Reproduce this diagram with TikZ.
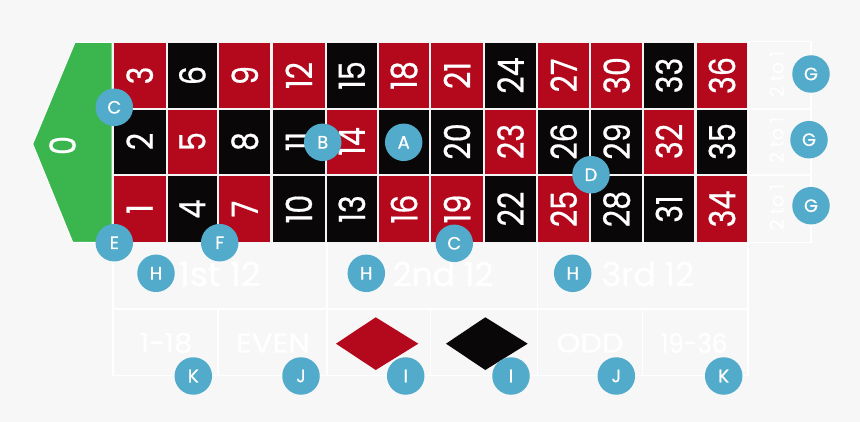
\documentclass[tikz,border=0pt]{standalone}
\usepackage{fontspec}
\setmainfont[FakeBold=0.6]{Poppins}
\usetikzlibrary{shapes.geometric}
\definecolor{bgc}{HTML}{F7F7F7}
\definecolor{redc}{HTML}{B4081C}
\definecolor{blackc}{HTML}{090708}
\definecolor{greenc}{HTML}{3BB54D}
\definecolor{bluec}{HTML}{52ABCA}
\tikzset{
  numtext/.style={text=white,rotate=90,font=\fontsize{36}{36}\selectfont,inner sep=0pt},
  ghost/.style={text=white,font=\fontsize{33}{33}\selectfont,inner sep=0pt},
  ghostsmall/.style={text=white,font=\fontsize{27}{27}\selectfont,inner sep=0pt},
  ghostside/.style={text=white,rotate=90,font=\fontsize{19}{19}\selectfont,inner sep=0pt},
  tag/.style={circle,fill=bluec,minimum size=37.5pt,inner sep=0pt,text=white,font=\fontsize{18}{18}\selectfont},
  gridline/.style={draw=white,line width=1.6pt},
}
\newcommand{\nar}[1]{\scalebox{0.84}[1]{#1}}
\newcommand{\wid}[2]{\scalebox{#1}[1]{#2}}
\begin{document}
\begin{tikzpicture}[x=1pt,y=-1pt]
\useasboundingbox (0,0) rectangle (860,422);
\fill[bgc] (0,0) rectangle (860,422);
% ghost grid
\draw[gridline] (748,41.5) -- (811,41.5) -- (811,242.5) -- (748,242.5);
\draw[gridline] (748,108.8) -- (811,108.8);
\draw[gridline] (748,175) -- (811,175);
\draw[gridline] (748,41.5) -- (748,375.5) -- (112.7,375.5) -- (112.7,242);
\draw[gridline] (112.7,309.3) -- (748,309.3);
\draw[gridline] (326.7,242) -- (326.7,375.5);
\draw[gridline] (537.3,242) -- (537.3,375.5);
\draw[gridline] (217.7,309.3) -- (217.7,375.5);
\draw[gridline] (430.5,309.3) -- (430.5,375.5);
\draw[gridline] (642.3,309.3) -- (642.3,375.5);
% backing
\fill[white!92!gray] (112,41.5) rectangle (748,243);
% zero
\filldraw[fill=greenc,draw=white,line width=1pt] (75,42.3) -- (112,42.3) -- (112,242.3) -- (72.7,242.3) -- (32.7,144) -- cycle;
\node[numtext] (zero) at (62.5,145.5) {\nar{0}};
% cells
\foreach \xa/\xb/\top/\mid/\bot/\ct/\cm/\cb in {
 113.7/165.7/redc/blackc/redc/3/2/1,
 167.7/217/blackc/redc/blackc/6/5/4,
 219.3/270.3/redc/blackc/redc/9/8/7,
 272.7/325/redc/blackc/blackc/12/11/10,
 327/376.7/blackc/redc/blackc/15/14/13,
 379/429/redc/blackc/redc/18/17/16,
 431.3/482.7/redc/blackc/redc/21/20/19,
 485/536/blackc/redc/blackc/24/23/22,
 538.3/589/redc/blackc/redc/27/26/25,
 591.3/642/redc/blackc/blackc/30/29/28,
 643.7/694.3/blackc/redc/blackc/33/32/31,
 697.3/746.7/redc/blackc/redc/36/35/34}{
  \fill[\top] (\xa,42.7) rectangle (\xb,107.7);
  \fill[\mid] (\xa,110) rectangle (\xb,174);
  \fill[\bot] (\xa,176) rectangle (\xb,242);
  \pgfmathsetmacro{\xc}{(\xa+\xb)/2}
  \node[numtext] (n\ct) at (\xc,75.5) {\nar{\ct}};
  \ifnum\cm=17\else\node[numtext] (n\cm) at (\xc,141.5) {\nar{\cm}};\fi
  \node[numtext] (n\cb) at (\xc,209) {\nar{\cb}};
}
% ghost labels
\node[ghostside] (s1) at (776.5,74) {\wid{1}{2 to 1}};
\node[ghostside] (s2) at (776.5,140) {\wid{1}{2 to 1}};
\node[ghostside] (s3) at (776.5,207) {\wid{1}{2 to 1}};
\node[ghost] (d1) at (219.7,274) {\wid{1.05}{1st 12}};
\node[ghost] (d2) at (443,274) {\wid{1.0}{2nd 12}};
\node[ghost] (d3) at (648,274) {\wid{1.0}{3rd 12}};
\node[ghostsmall] (o1) at (166,343) {\wid{1.07}{1-18}};
\node[ghostsmall] (o2) at (273,343) {\wid{1.14}{EVEN}};
\node[ghostsmall] (o3) at (590,343) {\wid{1.13}{ODD}};
\node[ghostsmall] (o4) at (694,343) {\wid{0.91}{19-36}};
% diamonds
\fill[redc] (336,343.7) -- (375.7,317.3) -- (418.3,343.7) -- (375.7,370) -- cycle;
\fill[blackc] (446,343.7) -- (485.3,317.3) -- (527.7,343.7) -- (485.3,370) -- cycle;
% tags
\node[tag] (tA) at (403.7,142.3) {A};
\node[tag] (tB) at (322.7,142.3) {B};
\node[tag] (tC1) at (114.3,107.3) {C};
\node[tag] (tC2) at (454.3,243.3) {C};
\node[tag] (tD) at (591,174.7) {D};
\node[tag] (tE) at (114.3,242.7) {E};
\node[tag] (tF) at (219.7,242.7) {F};
\node[tag] (tG1) at (811,74) {G};
\node[tag] (tG2) at (809,139.7) {G};
\node[tag] (tG3) at (811,205.7) {G};
\node[tag] (tH1) at (156,273.3) {H};
\node[tag] (tH2) at (366.3,273.3) {H};
\node[tag] (tH3) at (572.7,273.3) {H};
\node[tag] (tI1) at (405.7,376) {I};
\node[tag] (tI2) at (511,376) {I};
\node[tag] (tJ1) at (301,376) {J};
\node[tag] (tJ2) at (616.3,376) {J};
\node[tag] (tK1) at (193.3,376) {K};
\node[tag] (tK2) at (723.7,376) {K};
\end{tikzpicture}
\end{document}
